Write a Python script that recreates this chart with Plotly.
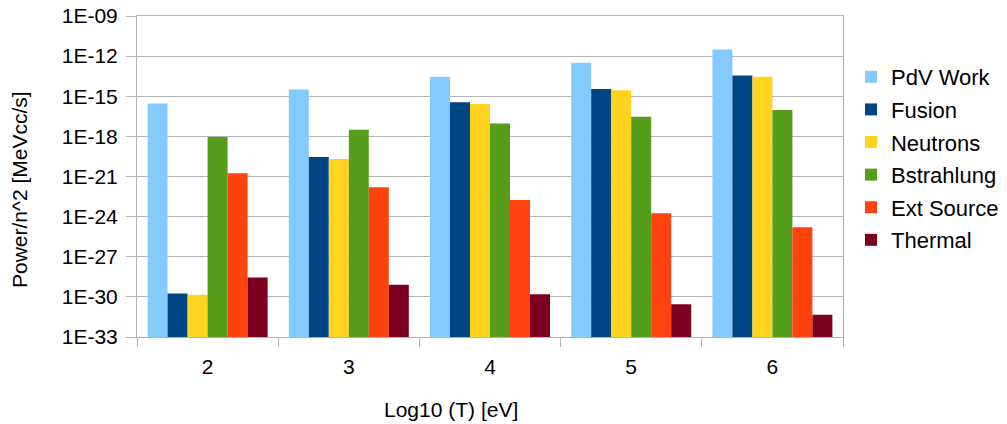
import plotly.graph_objects as go

categories = ["2", "3", "4", "5", "6"]
series_names = ["PdV Work", "Fusion", "Neutrons", "Bstrahlung", "Ext Source", "Thermal"]
# log10 of values
pdv_work_log = [-15.55, -14.5, -13.55, -12.5, -11.5]
fusion_log = [-29.75, -19.55, -15.45, -14.45, -13.45]
neutrons_log = [-29.85, -19.7, -15.58, -14.55, -13.55]
bstrahlung_log = [-18.05, -17.5, -17.03, -16.53, -16.03]
ext_source_log = [-20.75, -21.8, -22.75, -23.75, -24.8]
thermal_log = [-28.55, -29.1, -29.8, -30.55, -31.33]
colors = ["#83CAFF", "#004586", "#FFD320", "#579D1C", "#FF420E", "#7E0021"]
tick_vals_log = [-33, -30, -27, -24, -21, -18, -15, -12, -9]
tick_text = ["1E-33", "1E-30", "1E-27", "1E-24", "1E-21", "1E-18", "1E-15", "1E-12", "1E-09"]
x_title = "Log10 (T) [eV]"
y_title = "Power/n^2 [MeVcc/s]"

all_series = [pdv_work_log, fusion_log, neutrons_log, bstrahlung_log, ext_source_log, thermal_log]

FONT = "Liberation Sans, Arial, sans-serif"
GRID = "#b3b3b3"
FS = 21

fig = go.Figure()
for name, vals, col in zip(series_names, all_series, colors):
    fig.add_trace(go.Bar(
        x=categories,
        y=[10 ** v for v in vals],
        name=name,
        marker=dict(color=col, line=dict(width=0)),
        legendgroup=name,
    ))

# figure is a bit wider than the window so the legend never pushes the margins
W = 1040
fig.update_layout(
    width=W, height=424,
    margin=dict(l=137, r=W - 843, t=16, b=87),
    paper_bgcolor="white", plot_bgcolor="white",
    barmode="group", bargap=0.15, bargroupgap=0,
    font=dict(family=FONT, size=FS, color="#000000"),
    legend=dict(x=1.0113, xanchor="left", y=0.556, yanchor="middle",
                font=dict(family=FONT, size=22, color="#000000"),
                tracegroupgap=1, itemwidth=30, borderwidth=0),
    showlegend=True,
)
fig.update_xaxes(
    type="category", tickson="boundaries", ticks="outside", ticklen=9,
    tickcolor=GRID, showline=True, linecolor=GRID, mirror=True,
    showgrid=False, automargin=False,
    tickfont=dict(family=FONT, size=FS, color="#000000"),
    ticklabelstandoff=11,
)
fig.update_yaxes(
    type="log", range=[-33, -9],
    tickvals=[10 ** v for v in tick_vals_log], ticktext=tick_text,
    ticks="outside", ticklen=10, tickcolor=GRID,
    showgrid=True, gridcolor=GRID, gridwidth=1,
    showline=True, linecolor=GRID, mirror=True,
    zeroline=False, automargin=False,
    tickfont=dict(family=FONT, size=FS, color="#000000"),
    ticklabelstandoff=4,
)
fig.add_annotation(text=x_title, xref="paper", yref="paper",
                   x=0.4448, y=-0.2274, xanchor="center", yanchor="middle",
                   showarrow=False, font=dict(family=FONT, size=FS, color="#000000"))
fig.add_annotation(text=y_title, xref="paper", yref="paper", textangle=-90,
                   x=-0.1657, y=0.458, xanchor="center", yanchor="middle",
                   showarrow=False, font=dict(family=FONT, size=FS, color="#000000"))

fig.write_html(
    "out.html",
    config={"displayModeBar": False},
    post_script=(
        "document.body.style.margin='0';"
        "document.body.style.overflow='hidden';"
        "document.documentElement.style.overflow='hidden';"
    ),
)
